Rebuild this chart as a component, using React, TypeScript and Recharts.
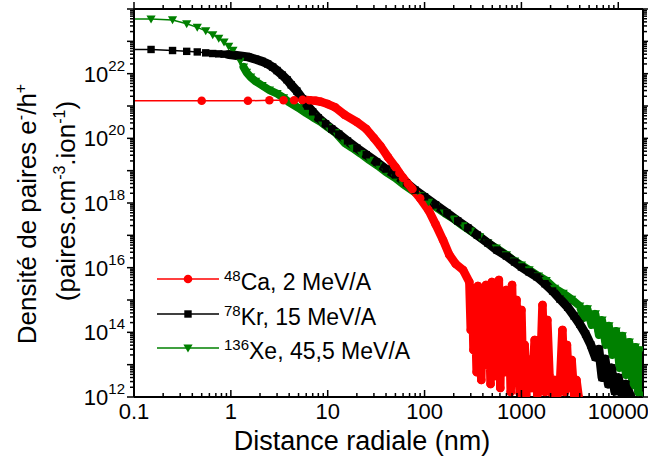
import { LineChart, Line, XAxis, YAxis, Legend } from 'recharts'

const FONT = 'Arial, "Liberation Sans", Helvetica, sans-serif'
const RED = '#ff0000'
const BLACK = '#000000'
const GREEN = '#008000'

// axis ticks
const xMajor = [0.1, 1, 10, 100, 1000, 10000]
const mantissas = [2, 3, 4, 5, 6, 7, 8, 9]
const xTicks = [...xMajor, ...xMajor.flatMap((d) => mantissas.map((m) => m * d))].filter((v) => v <= 18000)
const yMajor = [1e12, 1e13, 1e14, 1e15, 1e16, 1e17, 1e18, 1e19, 1e20, 1e21, 1e22, 1e23, 1e24]
const yLabelled = [1e12, 1e14, 1e16, 1e18, 1e20, 1e22]
const yTicks = [...yMajor, ...yMajor.slice(0, -1).flatMap((d) => mantissas.map((m) => m * d))]

// [distance radiale (nm), densite (paires.cm-3.ion-1)]
const caPoints: [number, number][] = [
  [0.05, 1.45e21], [0.5, 1.45e21], [1.5, 1.45e21], [2.5, 1.5e21], [3.5, 1.5e21], [4.5, 1.5e21],
  [5.5, 1.55e21], [6.5, 1.5e21], [7.5, 1.45e21], [8.5, 1.35e21], [10, 1.15e21], [12, 9e20],
  [15, 5.3e20], [20, 3.2e20], [25, 1.95e20], [30, 1.02e20], [35, 5.8e19], [42, 2.6e19],
  [50, 1.3e19], [55, 8.5e18], [60, 6e18], [67, 4e18], [75, 2.7e18], [90, 1.4e18], [110, 6e17],
  [130, 2.2e17], [155, 7.2e16], [180, 2.5e16], [210, 1.3e16], [250, 8.5e15], [290, 3.6e15],
  [300, 1.18e14], [310, 2.35e15], [320, 2.84e13], [330, 1.0e15], [345, 5.9e12], [355, 2.71e15],
  [370, 2.41e14], [385, 3.36e12], [400, 1.77e15], [415, 5.8e13], [430, 2.91e15], [445, 9.8e12],
  [460, 7.0e14], [480, 2.52e12], [495, 3.6e15], [510, 1.18e14], [530, 4.47e12], [545, 2.04e15],
  [565, 1.99e13], [585, 4.16e15], [605, 1.9e12], [625, 1.0e15], [650, 4.06e13], [670, 5.9e12],
  [695, 2.04e15], [720, 1.39e13], [745, 3.44e14], [775, 1.43e12], [800, 2.91e15], [830, 2.84e13],
  [860, 3.87e12], [890, 1.0e15], [925, 7.9e12], [960, 1.33e12], [1000, 4.9e14], [1040, 3.36e12],
  [1080, 4.06e13], [1120, 1.15e12], [1200, 1.39e13], [1280, 1.9e12], [1370, 5.8e13], [1460, 1.15e12],
  [1550, 2.52e12], [1650, 7.0e14], [1750, 1.43e12], [1850, 2.41e14], [1950, 4.47e12], [2050, 1.33e12],
  [2200, 3.36e12], [2350, 1.15e12], [2500, 2.52e12], [2650, 1.18e14], [2800, 1.43e12], [2950, 4.06e13],
  [3100, 1.9e12], [3300, 1.39e13], [3500, 1.15e12], [3700, 3.36e12], [3900, 1.0e12],
]

const krPoints: [number, number][] = [
  [0.05, 5.6e22], [0.15, 5.6e22], [0.25, 5.2e22], [0.35, 4.9e22], [0.45, 4.7e22], [0.55, 4.4e22],
  [0.65, 4.2e22], [0.75, 4.1e22], [0.85, 4.0e22], [0.95, 3.9e22], [1.05, 3.8e22], [1.2, 3.6e22],
  [1.5, 3.3e22], [1.8, 2.8e22], [2.1, 2.4e22], [2.4, 2.0e22], [2.7, 1.6e22], [3.0, 1.25e22],
  [3.4, 9e21], [3.8, 6.5e21], [4.2, 4.5e21], [4.8, 2.9e21], [5.5, 1.66e21], [6.2, 1.0e21],
  [7, 6.6e20], [8, 4.3e20], [9.5, 2.8e20], [11, 1.95e20], [13, 1.35e20], [16, 8.3e19],
  [20, 5e19], [25, 3.1e19], [32, 1.85e19], [40, 1.12e19], [50, 7.4e18], [65, 4.2e18],
  [80, 2.5e18], [100, 1.55e18], [130, 8.7e17], [170, 4.9e17], [220, 2.8e17], [280, 1.7e17],
  [350, 1.02e17], [450, 5.8e16], [560, 3.5e16], [700, 2.3e16], [850, 1.5e16], [1000, 1.05e16],
  [1200, 7.4e15], [1450, 5.2e15], [1750, 3.2e15], [2100, 1.9e15], [2500, 1.07e15], [3000, 6e14],
  [3500, 3.2e14], [4000, 1.8e14], [4600, 8.9e13], [5200, 4.1e13], [5800, 1.7e13], [6300, 3e13],
  [6800, 4e12], [7300, 1.5e13], [7900, 2.5e12], [8500, 8e12], [9200, 1.5e12], [10000, 4e12],
  [11000, 1.2e12], [12000, 2.5e12], [13500, 1.0e12],
]

const xePoints: [number, number][] = [
  [0.05, 4.9e23], [0.15, 4.9e23], [0.25, 4.6e23], [0.35, 3.5e23], [0.45, 2.7e23], [0.55, 2.1e23],
  [0.65, 1.6e23], [0.75, 1.23e23], [0.85, 9.5e22], [0.95, 7e22], [1.05, 5.3e22], [1.15, 3.6e22],
  [1.25, 2.4e22], [1.35, 1.6e22], [1.45, 1.1e22], [1.6, 7.8e21], [1.8, 5.8e21], [2.1, 4.3e21],
  [2.5, 3.1e21], [3, 2.4e21], [3.5, 1.8e21], [4, 1.3e21], [5, 8.7e20], [6, 6.0e20],
  [7, 4.5e20], [8.5, 3.2e20], [10, 2.2e20], [12, 1.5e20], [15, 7.1e19], [18, 5.0e19],
  [22, 3.3e19], [27, 2.1e19], [33, 1.4e19], [40, 9e18], [50, 5.9e18], [60, 3.8e18],
  [75, 2.4e18], [90, 1.65e18], [110, 1.05e18], [130, 7.5e17], [160, 4.9e17], [200, 3.2e17],
  [250, 1.95e17], [300, 1.35e17], [370, 8.9e16], [450, 5.8e16], [550, 4.0e16], [700, 2.5e16],
  [850, 1.6e16], [1000, 1.2e16], [1200, 8.5e15], [1500, 5.5e15], [1800, 4.0e15], [2200, 2.3e15],
  [2700, 1.6e15], [3300, 1.05e15], [4000, 6.5e14], [4400, 2.8e14], [4800, 5.3e14], [5300, 1.7e14],
  [5800, 3.7e14], [6300, 8.3e13], [6800, 2.4e14], [7400, 4.1e13], [8000, 1.6e14], [8700, 2.0e13],
  [9500, 1.1e14], [10300, 7.9e12], [11000, 7.8e13], [12000, 4.8e12], [13000, 5e13], [14000, 2.3e12],
  [15000, 3.5e13], [16000, 1.4e12], [17000, 2.8e13], [18500, 1.15e12],
]

// distance (nm) from which the measured points are so close that they merge into a band
const caBandFrom = 5.5
const krBandFrom = 0.95
const xeBandFrom = 1.3

const toRows = (pts: [number, number][]) => pts.map(([r, v]) => ({ r, v }))

const legendItems = [
  { iso: '48', name: 'Ca, 2 MeV/A', color: RED, shape: 'circle' },
  { iso: '78', name: 'Kr, 15 MeV/A', color: BLACK, shape: 'square' },
  { iso: '136', name: 'Xe, 45,5 MeV/A', color: GREEN, shape: 'triangle' },
]

function Marker({ cx, cy, shape, color }: any) {
  if (shape === 'circle') return <circle cx={cx} cy={cy} r={4.3} fill={color} />
  if (shape === 'square') return <rect x={cx - 3.7} y={cy - 3.7} width={7.4} height={7.4} fill={color} />
  return <polygon points={`${cx - 4.6},${cy - 3.6} ${cx + 4.6},${cy - 3.6} ${cx},${cy + 4.4}`} fill={color} />
}

const dotOf = (shape: string, color: string) => (p: any) =>
  <Marker key={`${shape}-${p.index}`} cx={p.cx} cy={p.cy} shape={shape} color={color} />

function BottomTick({ x, y, payload }: any) {
  const major = xMajor.includes(payload.value)
  return (
    <g>
      <line x1={x} x2={x} y1={y} y2={y - (major ? 7 : 4)} stroke="#000" strokeWidth={1.5} />
      {major && (
        <text x={x} y={y + 22} textAnchor="middle" fontSize={22} fontFamily={FONT} fill="#000">
          {String(payload.value)}
        </text>
      )}
    </g>
  )
}

function TopTick({ x, y, payload }: any) {
  const major = xMajor.includes(payload.value)
  return <line x1={x} x2={x} y1={y} y2={y - (major ? 7 : 4)} stroke="#000" strokeWidth={1.5} />
}

function LeftTick({ x, y, payload }: any) {
  const major = yMajor.includes(payload.value)
  const label = yLabelled.includes(payload.value)
  const exp = Math.round(Math.log10(payload.value))
  return (
    <g>
      <line x1={x} x2={x - (major ? 7 : 4)} y1={y} y2={y} stroke="#000" strokeWidth={1.5} />
      {label && (
        <text x={x - 9} y={y + 8} textAnchor="end" fontSize={22} fontFamily={FONT} fill="#000">
          10<tspan dy={-11} fontSize={15}>{exp}</tspan>
        </text>
      )}
    </g>
  )
}

function RightTick({ x, y, payload }: any) {
  const major = yMajor.includes(payload.value)
  return <line x1={x} x2={x + (major ? 7 : 4)} y1={y} y2={y} stroke="#000" strokeWidth={1.5} />
}

function YTitle({ viewBox }: any) {
  const cy = viewBox.y + viewBox.height / 2
  const l1 = { x: 36, y: cy + 11 }
  const l2 = { x: 75, y: cy - 2 }
  return (
    <g fontFamily={FONT} fontSize={26} fill="#000">
      <text x={l1.x} y={l1.y} textAnchor="middle" transform={`rotate(-90 ${l1.x} ${l1.y})`}>
        Densité de paires e<tspan dy={-10} fontSize={16}>-</tspan>
        <tspan dy={10}>/h</tspan>
        <tspan dy={-10} fontSize={16}>+</tspan>
      </text>
      <text x={l2.x} y={l2.y} textAnchor="middle" transform={`rotate(-90 ${l2.x} ${l2.y})`}>
        (paires.cm<tspan dy={-10} fontSize={16}>-3</tspan>
        <tspan dy={10}>.ion</tspan>
        <tspan dy={-10} fontSize={16}>-1</tspan>
        <tspan dy={10}>)</tspan>
      </text>
    </g>
  )
}

function XTitle() {
  return (
    <text x={362} y={450} textAnchor="middle" fontSize={27} fontFamily={FONT} fill="#000">
      Distance radiale (nm)
    </text>
  )
}

function LegendBox() {
  return (
    <div style={{ fontFamily: FONT, fontSize: 23, color: '#000' }}>
      {legendItems.map((it) => (
        <div key={it.iso} style={{ display: 'flex', alignItems: 'center', height: 34.5, lineHeight: '34.5px', whiteSpace: 'nowrap' }}>
          <svg width={62} height={12} style={{ overflow: 'visible', flex: 'none' }}>
            <line x1={0} x2={62} y1={6} y2={6} stroke={it.color} strokeWidth={1.5} />
            <Marker cx={31} cy={6} shape={it.shape} color={it.color} />
          </svg>
          <span style={{ marginLeft: 5, position: 'relative', top: 3 }}>
            <sup style={{ fontSize: 15, lineHeight: 0 }}>{it.iso}</sup>
            {it.name}
          </span>
        </div>
      ))}
    </div>
  )
}

export default function App() {
  const axisLine = { stroke: '#000', strokeWidth: 2 }
  const band = (pts: [number, number][], from: number) => toRows(pts).filter((d) => d.r >= from)
  return (
    <div style={{ position: 'absolute', left: 0, top: 0, width: 648, height: 465, background: '#fff' }}>
      <LineChart width={648} height={465} margin={{ top: 0, right: 0, bottom: 0, left: 0 }}>
        <XAxis xAxisId="b" type="number" dataKey="r" scale="log" domain={[0.1, 18000]} allowDataOverflow
          ticks={xTicks} interval={0} tickSize={0} tickMargin={0} tickLine={false} tick={<BottomTick />}
          axisLine={axisLine} height={68} label={<XTitle />} />
        <XAxis xAxisId="t" orientation="top" type="number" dataKey="r" scale="log" domain={[0.1, 18000]} allowDataOverflow
          ticks={xTicks} interval={0} tickSize={0} tickMargin={0} tickLine={false} tick={<TopTick />}
          axisLine={axisLine} height={9} />
        <YAxis yAxisId="l" type="number" scale="log" domain={[1e12, 1e24]} allowDataOverflow
          ticks={yTicks} interval={0} tickSize={0} tickMargin={0} tickLine={false} tick={<LeftTick />}
          axisLine={axisLine} width={134} label={<YTitle />} />
        <YAxis yAxisId="r" orientation="right" type="number" scale="log" domain={[1e12, 1e24]} allowDataOverflow
          ticks={yTicks} interval={0} tickSize={0} tickMargin={0} tickLine={false} tick={<RightTick />}
          axisLine={axisLine} width={5} />
        <Legend layout="vertical" align="center" verticalAlign="middle" content={<LegendBox />}
          wrapperStyle={{ left: 157, top: 262, width: 300 }} />

        <Line xAxisId="b" yAxisId="l" data={band(xePoints, xeBandFrom)} dataKey="v" stroke={GREEN} strokeWidth={8}
          strokeLinejoin="round" strokeLinecap="round" dot={false} legendType="none" isAnimationActive={false} type="linear" />
        <Line xAxisId="b" yAxisId="l" data={toRows(xePoints)} dataKey="v" name="Xe" stroke={GREEN} strokeWidth={1.5}
          dot={dotOf('triangle', GREEN)} isAnimationActive={false} type="linear" />

        <Line xAxisId="b" yAxisId="l" data={band(krPoints, krBandFrom)} dataKey="v" stroke={BLACK} strokeWidth={9}
          strokeLinejoin="round" strokeLinecap="round" dot={false} legendType="none" isAnimationActive={false} type="linear" />
        <Line xAxisId="b" yAxisId="l" data={toRows(krPoints)} dataKey="v" name="Kr" stroke={BLACK} strokeWidth={1.5}
          dot={dotOf('square', BLACK)} isAnimationActive={false} type="linear" />

        <Line xAxisId="b" yAxisId="l" data={band(caPoints, caBandFrom)} dataKey="v" stroke={RED} strokeWidth={8.5}
          strokeLinejoin="round" strokeLinecap="round" dot={false} legendType="none" isAnimationActive={false} type="linear" />
        <Line xAxisId="b" yAxisId="l" data={toRows(caPoints)} dataKey="v" name="Ca" stroke={RED} strokeWidth={1.5}
          dot={dotOf('circle', RED)} isAnimationActive={false} type="linear" />
      </LineChart>
    </div>
  )
}
